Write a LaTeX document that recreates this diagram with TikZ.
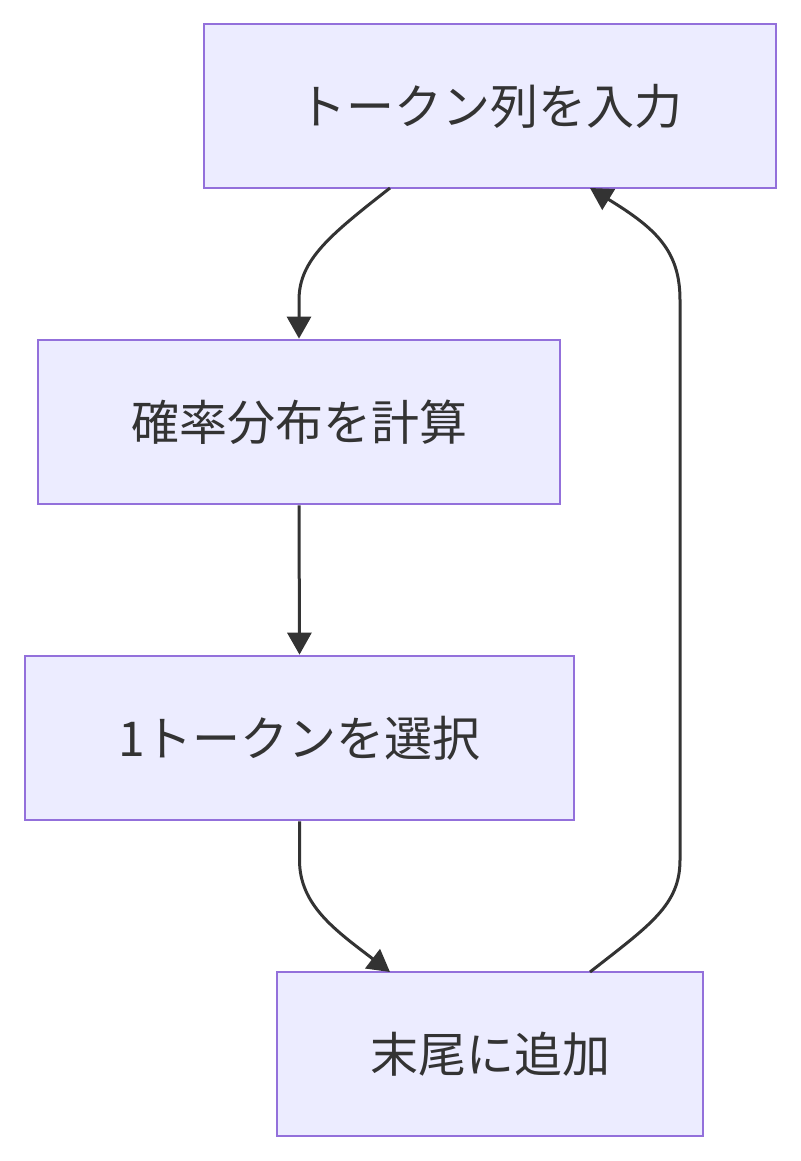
\documentclass[tikz,border=0pt]{standalone}
\usepackage{fontspec}
\setmainfont{Noto Sans CJK JP}
\usetikzlibrary{arrows.meta}
\definecolor{boxfill}{HTML}{ECECFF}
\definecolor{boxline}{HTML}{9370DB}
\definecolor{edge}{HTML}{333333}
\begin{document}
\begin{tikzpicture}[x=1pt,y=-1pt,
  box/.style={draw=boxline,fill=boxfill,line width=2.7pt,rectangle,inner sep=0pt,
    font=\fontsize{48}{58}\selectfont,text=edge},
  conn/.style={draw=edge,line width=3pt,-{Triangle[length=22pt,width=24pt]}}]
\useasboundingbox (0,0) rectangle (800,1161);
\node[box,minimum width=572pt,minimum height=164pt] (n1) at (490,106) {トークン列を入力};
\node[box,minimum width=522pt,minimum height=164pt] (n2) at (299,422) {確率分布を計算};
\node[box,minimum width=549pt,minimum height=164pt] (n3) at (299.5,738) {1トークンを選択};
\node[box,minimum width=426pt,minimum height=164pt] (n4) at (490,1054) {末尾に追加};
\coordinate (a1) at (390,188);
\coordinate (b1) at (590,188);
\coordinate (a4) at (390,972);
\coordinate (b4) at (590,972);
\draw[conn] (a1) .. controls (330,235) and (299,260) .. (299,300) -- (n2.north);
\draw[conn] (n2.south) -- (n3.north);
\draw[conn] (n3.south) -- (299.5,860) .. controls (299.5,905) and (335,930) .. (a4);
\draw[conn] (b4) .. controls (650,925) and (680,905) .. (680,860) -- (680,300) .. controls (680,250) and (655,228) .. (b1);
\end{tikzpicture}
\end{document}
